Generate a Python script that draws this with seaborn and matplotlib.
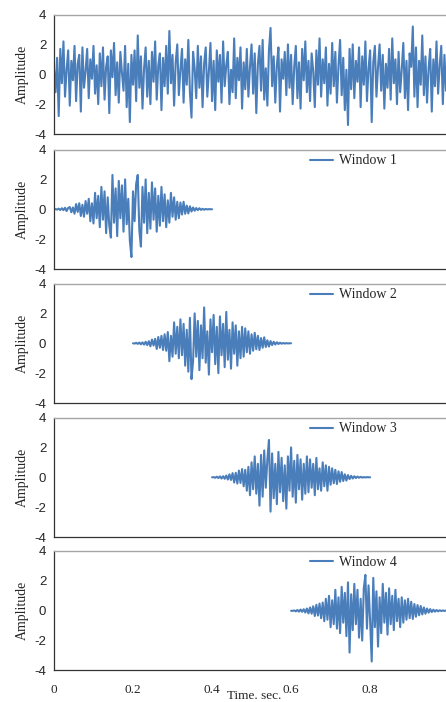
import numpy as np
import pandas as pd
import matplotlib
matplotlib.use("Agg")
import matplotlib.pyplot as plt
import seaborn as sns

# ---------------- data ----------------
sample_dt = 0.004

signal = [
    0.4, -1.2, 1.1, -2.8, 1.7, -0.6, 2.2, -1.5, 0.3, 1.6, -2.1, 0.9, -0.4, 1.9, -1.8, 0.7, 1.3, -2.5, 1.8, -0.9, 0.2, 1.7, -1.6, 1.0, -0.3,
    1.9, -1.3, 0.6, -2.0, 1.4, -0.8, 1.8, -1.7, 0.5, 1.2, -2.6, 1.6, -0.2, 2.1, -1.4, 0.8, -1.9, 1.5, 0.1, -1.1, 1.9, -2.2, 0.7, -3.2, 1.3,
    -0.7, 1.6, -1.8, 2.6, -0.9, 1.2, -2.3, 0.4, 1.8, -1.5, 0.9, -2.0, 1.5, -0.5, 2.2, -1.7, 0.6, 1.4, -2.4, 1.1, -0.8, 1.9, -1.3, 2.9, -0.6,
    1.3, -2.1, 0.8, 2.0, -1.4, 0.3, 1.7, -1.9, 1.0, -0.7, 2.3, -1.2, -2.9, 1.5, 0.4, -1.6, 1.9, -0.9, 1.2, -2.2, 0.7, 1.8, -1.5, 0.2, 2.1,
    -1.8, 0.9, -2.4, 1.6, -0.5, 1.3, -1.9, 2.2, -0.8, 0.6, 1.5, -2.0, 0.3, -1.2, 2.4, -1.6, 1.1, -0.4, 1.8, -2.3, 0.8, -1.0, 1.7, -1.5, 0.5,
    2.0, -1.3, 1.4, -2.6, 0.7, 1.9, -1.1, 2.3, -1.7, 0.4, -2.1, 1.6, 3.1, -0.8, 1.2, -1.9, 0.6, 1.8, -2.5, 1.0, -0.3, 1.5, -1.4, 2.0, -0.9,
    1.3, -2.0, 0.5, 1.9, -1.6, 0.8, -2.3, 1.7, -0.4, 2.2, -1.2, 0.9, -1.8, 1.4, 0.2, -2.2, 1.6, -0.7, 2.4, -1.5, 1.0, -0.6, 1.8, -2.1, 0.7,
    -1.3, 2.1, -0.8, 1.5, -1.9, 0.6, 2.3, -1.4, 1.1, -2.4, 0.3, -3.4, 1.7, -1.0, 2.0, -1.6, 0.9, -0.5, 1.8, -2.2, 1.2, -0.7, 2.2, -1.8, 0.4,
    1.6, -3.2, 0.8, 1.9, -1.5, 0.5, 2.0, -1.1, 1.3, -2.3, 0.7, -0.9, 1.7, -1.7, 2.4, -0.6, 1.0, -2.0, 1.5, -1.2, 0.3, 2.1, -1.6, 0.9, -2.4,
    1.4, 0.5, 3.2, -1.5, 1.8, -2.2, 0.9, -0.7, 2.6, -1.4, 1.2, -1.9, 0.4, 1.7, -2.5, 1.0, -0.8, 2.2, -1.3, 0.6, 1.9, -2.0, 1.3, -1.1, 0.8,
]

window1 = [
    0.0, 0.01, -0.02, 0.04, -0.05, 0.07, -0.06, 0.1, -0.12, 0.09,
    0.15, -0.2, 0.12, -0.3, 0.35, -0.18, 0.4, -0.45, 0.3, -0.5,
    0.55, -0.3, 0.7, -0.8, 0.4, -0.95, 1.1, -0.6, 0.9, -1.2,
    1.5, -0.7, 1.2, -1.6, 0.8, -1.1, -1.9, 2.3, -0.9, 1.4,
    -1.8, 1.9, -0.6, 1.6, -1.5, 2.0, -1.0, 0.7, -2.1, -3.2,
    1.2, -0.8, 1.7, 2.3, -1.4, -2.5, 1.5, -0.9, 2.0, -1.6,
    1.1, -1.3, 1.8, -0.7, 1.4, -1.5, 0.9, -1.1, 1.5, -0.8,
    1.0, -1.2, 0.6, -0.9, 1.1, -0.5, 0.8, -0.7, 0.5, -0.6,
    0.45, -0.35, 0.5, -0.3, 0.25, -0.28, 0.2, -0.15, 0.12, -0.1,
    0.08, -0.06, 0.07, -0.04, 0.03, -0.03, 0.02, -0.01, 0.01, 0.0, 0.0,
]
window2 = [
    0.0, -0.02, 0.03, -0.04, 0.05, -0.07, 0.06, -0.09, 0.1, -0.12,
    0.14, -0.2, 0.25, -0.15, 0.3, -0.38, 0.42, -0.3, 0.5, -0.45,
    0.6, -0.5, 0.75, -1.2, 0.5, -0.9, 1.4, -0.7, 1.1, -1.0,
    1.6, -0.8, 1.3, -1.5, 0.9, -1.9, 1.7, -2.4, -1.2, 2.0,
    -0.9, 1.5, -1.8, 1.2, -1.0, 2.4, -1.3, 0.8, -2.1, 1.6,
    -0.6, 1.9, -1.4, 1.1, -2.0, 1.8, -0.8, 1.3, -1.6, 2.1,
    -1.1, 0.9, -1.7, 1.4, -0.7, 1.2, -1.5, 0.8, -1.0, 1.1,
    -0.9, 1.0, -0.6, 0.8, -0.7, 0.6, -0.5, 0.7, -0.4, 0.5,
    -0.45, 0.35, -0.3, 0.4, -0.25, 0.2, -0.22, 0.15, -0.12, 0.1,
    -0.08, 0.07, -0.05, 0.04, -0.03, 0.02, -0.02, 0.01, -0.01, 0.0, 0.0,
]
window3 = [
    0.0, 0.01, -0.03, 0.04, -0.05, 0.06, -0.08, 0.07, -0.1, 0.12,
    -0.15, 0.2, -0.18, 0.28, -0.35, 0.3, -0.42, 0.45, -0.38, 0.55,
    -0.6, 0.5, -0.9, 0.7, -1.2, 1.0, -0.8, 1.4, -1.1, 0.9,
    -1.9, 1.5, -1.3, 1.8, -0.7, 1.2, 2.5, -2.3, 1.6, -1.4,
    0.9, -1.8, 1.7, -1.0, 1.3, -1.6, 0.8, -2.1, 1.4, -0.9,
    2.0, -1.3, 1.1, -1.7, 1.5, -0.8, 1.2, -1.5, 0.9, -1.1,
    1.4, -1.0, 1.2, -0.7, 0.9, -1.2, 1.3, -0.8, 0.6, -0.9,
    1.0, -0.6, 0.8, -0.9, 0.7, -0.5, 0.6, -0.4, 0.5, -0.45,
    0.4, -0.3, 0.35, -0.25, 0.2, -0.22, 0.15, -0.12, 0.1, -0.08,
    0.07, -0.05, 0.05, -0.03, 0.03, -0.02, 0.01, -0.01, 0.01, 0.0, 0.0,
]
window4 = [
    0.0, -0.01, 0.02, -0.04, 0.05, -0.06, 0.08, -0.07, 0.1, -0.12,
    0.15, -0.18, 0.22, -0.2, 0.3, -0.35, 0.4, -0.32, 0.48, -0.5,
    0.55, -0.7, 0.8, -0.6, 1.0, -1.1, 0.7, -0.9, 1.4, -1.2,
    0.9, -1.5, 1.6, -0.8, 1.2, -1.7, 1.9, -2.8, 1.1, -1.3,
    1.8, -0.9, 1.4, -1.8, 0.8, -2.0, 1.5, 2.4, -1.2, 1.7,
    -0.7, -3.4, 2.2, -1.1, 1.3, -2.4, 0.9, -1.5, 1.8, -0.8,
    1.2, -1.6, 1.5, -0.9, 1.0, -1.3, 1.4, -0.7, 0.8, -1.1,
    0.9, -0.8, 0.7, -0.6, 0.8, -0.5, 0.6, -0.55, 0.45, -0.4,
    0.38, -0.3, 0.32, -0.25, 0.22, -0.2, 0.15, -0.13, 0.11, -0.09,
    0.07, -0.06, 0.05, -0.04, 0.03, -0.02, 0.02, -0.01, 0.01, 0.0, 0.0,
]
window_starts = [0.0, 0.2, 0.4, 0.6]
window_labels = ["Window 1", "Window 2", "Window 3", "Window 4"]

x_ticks = [0, 0.2, 0.4, 0.6, 0.8]
x_tick_labels = ["0", "0.2", "0.4", "0.6", "0.8"]
x_minor = [0.1, 0.3, 0.5, 0.7, 0.9]
y_ticks = [-4, -2, 0, 2, 4]

# ---------------- style ----------------
sns.set_style("white")
plt.rcParams["font.family"] = ["Liberation Serif", "DejaVu Serif"]
plt.rcParams["axes.unicode_minus"] = False

color = "#4a7ebb"
fig = plt.figure(figsize=(4.46, 7.02), dpi=100)
bottoms = [0.8091, 0.6168, 0.4259, 0.2350, 0.0449]
height = 0.1702
left, width = 0.121, 0.879

series = [(signal, 0.0, None)] + [
    (w, s, lab) for w, s, lab in zip([window1, window2, window3, window4], window_starts, window_labels)
]

for i, (vals, start, lab) in enumerate(series):
    ax = fig.add_axes([left, bottoms[i], width, height])
    t = np.round(start + np.arange(len(vals)) * sample_dt, 4)
    df = pd.DataFrame({"t": t, "amp": vals})
    sns.lineplot(data=df, x="t", y="amp", ax=ax, color=color, linewidth=1.5,
                 estimator=None, label=lab, legend=(lab is not None))
    ax.set_xlim(0, 0.992)
    ax.set_ylim(-4, 4)
    ax.set_yticks(y_ticks)
    ax.set_yticklabels([str(v) for v in y_ticks], fontsize=9.5,
                       family=["Liberation Sans", "DejaVu Sans"])
    ax.set_xticks(x_ticks)
    ax.set_xticks(x_minor, minor=True)
    if i == 4:
        ax.set_xticklabels(x_tick_labels, fontsize=9.5)
        ax.set_xlabel("Time. sec.", fontsize=9.5, labelpad=-4, x=0.51)
    else:
        ax.set_xticklabels([])
        ax.set_xlabel("")
    ax.set_ylabel("Amplitude", fontsize=10, labelpad=4)
    ax.tick_params(axis="x", which="major", direction="inout", length=7, width=0.8, color="#333333", pad=6)
    ax.tick_params(axis="x", which="minor", direction="out", length=3, width=0.8, color="#333333")
    ax.tick_params(axis="y", which="major", direction="inout", length=7, width=0.8, color="#333333", pad=2)
    for sp in ["left", "bottom"]:
        ax.spines[sp].set_color("#333333")
        ax.spines[sp].set_linewidth(0.9)
    ax.spines["top"].set_color("#a6a6a6")
    ax.spines["top"].set_linewidth(1.0)
    ax.spines["right"].set_visible(False)
    if lab is not None:
        ax.legend(loc="center left", bbox_to_anchor=(0.652, 0.905), frameon=False,
                  handlelength=1.7, handletextpad=0.4, borderpad=0, borderaxespad=0,
                  fontsize=10)

fig.savefig("out.png", dpi=100)
